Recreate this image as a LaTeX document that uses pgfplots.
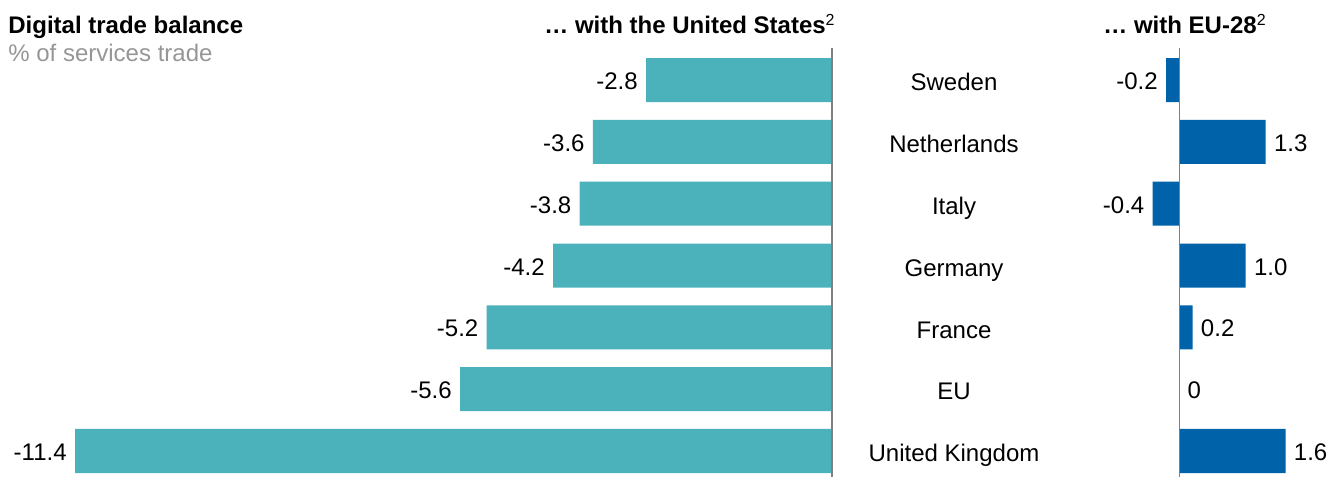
\documentclass[border=0pt]{standalone}
\usepackage{pgfplots}
\pgfplotsset{compat=1.18}
\usepackage{pgfplotstable}
\usepackage{fontspec}
\setmainfont{Liberation Sans}
\definecolor{teal1}{RGB}{75,178,188}
\definecolor{blue1}{RGB}{0,99,170}
\definecolor{axgray}{RGB}{128,128,128}
\definecolor{subgray}{RGB}{150,150,150}

\pgfplotstableread{
i v lab
0 -2.8 -2.8
1 -3.6 -3.6
2 -3.8 -3.8
3 -4.2 -4.2
4 -5.2 -5.2
5 -5.6 -5.6
6 -11.4 -11.4
}\us

\pgfplotstableread{
i v lab
0 -0.2 -0.2
2 -0.4 -0.4
}\euneg

\pgfplotstableread{
i v lab
1 1.3 1.3
3 1.0 1.0
4 0.2 0.2
5 0 0
6 1.6 1.6
}\eupos

\newcommand{\fs}{\fontsize{12}{14}\selectfont}

\begin{document}
\begin{tikzpicture}
\useasboundingbox (0,0) rectangle (672pt,238.5pt);

\node[anchor=base west, inner sep=0pt, font=\fs\bfseries] at (4pt,221.6pt) {Digital trade balance};
\node[anchor=base west, inner sep=0pt, font=\fs, text=subgray] at (4pt,207.5pt) {\% of services trade};
\node[anchor=base east, inner sep=0pt, font=\fs\bfseries] at (418pt,221.6pt) {… with the United States\textsuperscript{\mdseries 2}};
\node[anchor=base west, inner sep=0pt, font=\fs\bfseries] at (551.5pt,221.6pt) {… with EU-28\textsuperscript{\mdseries 2}};

\begin{axis}[
  at={(0pt,0pt)}, anchor=south west, scale only axis,
  width=416pt, height=214.5pt,
  xmin=-12.53, xmax=0, ymin=-0.5175, ymax=6.4206, y dir=reverse,
  xbar, bar width=22pt, bar shift=0pt, clip=false,
  axis line style={draw=none}, xtick=\empty,
  ytick={0,...,6},
  yticklabels={Sweden,Netherlands,Italy,Germany,France,EU,United Kingdom},
  yticklabel pos=right, major tick length=0pt,
  yticklabel style={anchor=base, xshift=61pt, yshift=-5.4pt, inner sep=0pt, font=\fs},
  point meta=explicit symbolic,
]
\addplot[fill=teal1, draw=none, nodes near coords,
  every node near coord/.append style={anchor=base east, yshift=-4.8pt, font=\fs, inner xsep=4pt, inner ysep=0pt, text=black}]
  table[x=v, y=i, meta=lab] {\us};
\draw[axgray, line width=0.6pt] (axis cs:0,-0.5175) -- (axis cs:0,6.4206);
\end{axis}

\begin{axis}[
  at={(550pt,0pt)}, anchor=south west, scale only axis,
  width=122pt, height=214.5pt,
  xmin=-1.194, xmax=2.48, ymin=-0.5175, ymax=6.4206, y dir=reverse,
  xbar, bar width=22pt, bar shift=0pt, clip=false,
  axis line style={draw=none}, xtick=\empty, ytick=\empty,
  major tick length=0pt,
  point meta=explicit symbolic,
]
\addplot[fill=blue1, draw=none, nodes near coords,
  every node near coord/.append style={anchor=base east, yshift=-4.8pt, font=\fs, inner xsep=4pt, inner ysep=0pt, text=black}]
  table[x=v, y=i, meta=lab] {\euneg};
\addplot[fill=blue1, draw=none, nodes near coords,
  every node near coord/.append style={anchor=base west, yshift=-4.8pt, font=\fs, inner xsep=4pt, inner ysep=0pt, text=black}]
  table[x=v, y=i, meta=lab] {\eupos};
\draw[axgray, line width=0.6pt] (axis cs:0,-0.5175) -- (axis cs:0,6.4206);
\end{axis}
\end{tikzpicture}
\end{document}
